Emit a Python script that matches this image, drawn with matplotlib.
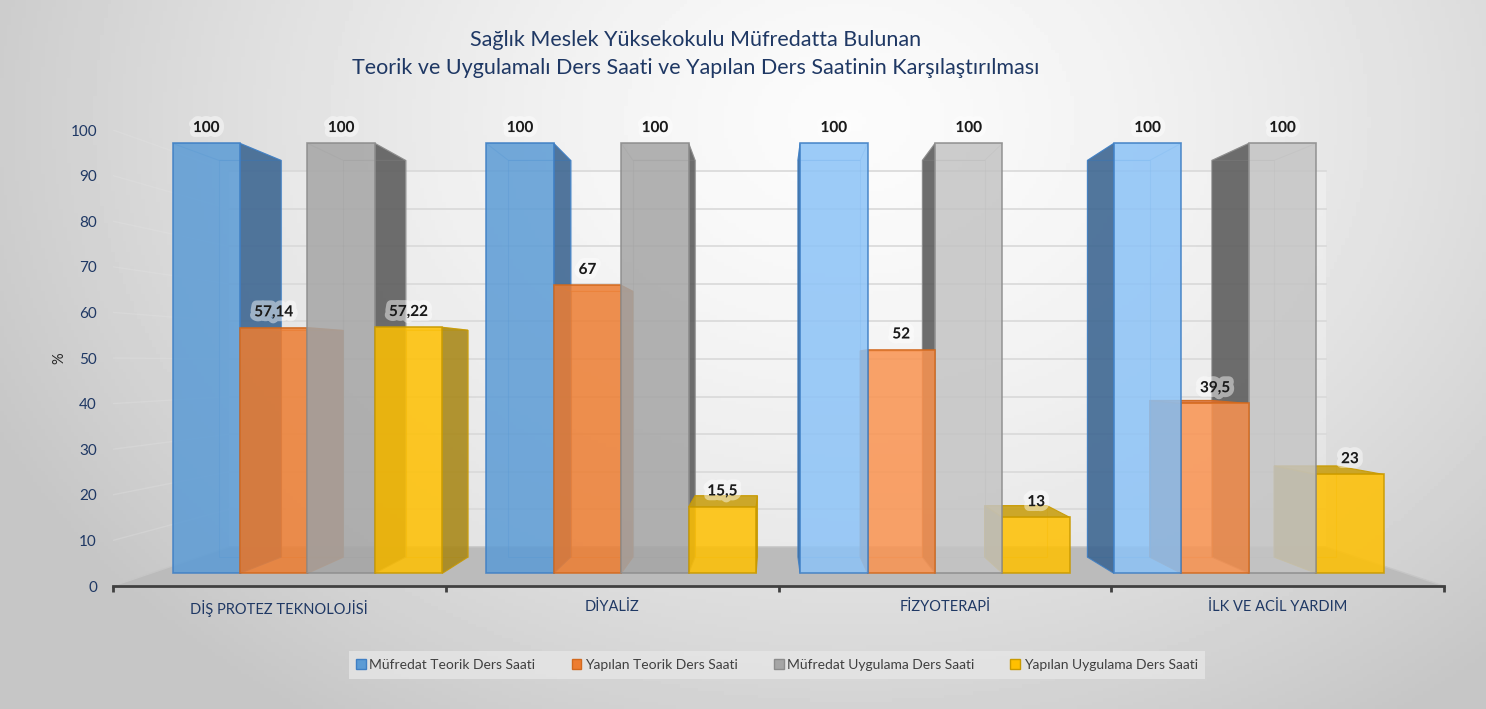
import numpy as np
import matplotlib.pyplot as plt
from matplotlib.patches import Polygon, Patch
import matplotlib.patheffects as pe

plt.rcParams['font.family'] = ['Liberation Sans Narrow', 'Lato', 'DejaVu Sans']

categories = ['DİŞ PROTEZ TEKNOLOJİSİ', 'DİYALİZ', 'FİZYOTERAPİ', 'İLK VE ACİL YARDIM']
series_names = ['Müfredat Teorik Ders Saati', 'Yapılan Teorik Ders Saati',
                'Müfredat Uygulama Ders Saati', 'Yapılan Uygulama Ders Saati']
mufredat_teorik = [100, 100, 100, 100]
yapilan_teorik = [57.14, 67, 52, 39.5]
mufredat_uygulama = [100, 100, 100, 100]
yapilan_uygulama = [57.22, 15.5, 13, 23]
y_ticks = list(range(0, 101, 10))

series = [mufredat_teorik, yapilan_teorik, mufredat_uygulama, yapilan_uygulama]

# colours: front (left of vanishing point), front (right of it), side, top, edge
front_l = ['#5B9BD5', '#ED7D31', '#A5A5A5', '#FFC000']
front_r = ['#8CC3F7', '#FA9350', '#C4C4C4', '#FFC000']
side_c = ['#3A6490', '#B5602A', '#5A5A5A', '#A88716']
top_c = ['#6AA7E0', '#D96F33', '#B0B0B0', '#C9A014']
edge_c = ['#3F7FC4', '#D2691E', '#8C8C8C', '#C99A00']
navy = '#1F3864'

# fake 3d: perspective towards a vanishing point, in data units
VPX, VPY = 1.48, 48.7
Z_FRONT, Z_BACK, Z_WALL = 0.057, 0.13, 0.176
BAR_W = 0.215


def proj(x, y, z):
    return (x + z * (VPX - x), y + z * (VPY - y))


def quad(pts):
    return [proj(*p) for p in pts]


fig = plt.figure(figsize=(14.86, 7.09), dpi=100)

# background gradient
bg = fig.add_axes([0, 0, 1, 1], zorder=-10)
gx, gy = np.meshgrid(np.linspace(0, 1486, 400), np.linspace(0, 709, 200))
d = np.sqrt((gx - 850) ** 2 + ((gy - 120) * 1.3) ** 2)
shade = 0.985 - 0.21 * np.clip(d / 950, 0, 1) ** 1.4
bg.imshow(shade, cmap='gray', vmin=0, vmax=1, extent=[0, 1486, 709, 0], aspect='auto')
bg.axis('off')

ax = fig.add_axes([113 / 1486, 1 - 586 / 709, 1331 / 1486, 456 / 709])
ax.patch.set_alpha(0)
ax.set_xlim(-0.5, 3.5)
ax.set_ylim(0, 100)

x0, x1 = -0.5, len(categories) - 0.5

# back wall + floor
ax.add_patch(Polygon(quad([(x0, 0, Z_WALL), (x1, 0, Z_WALL), (x1, 100, Z_WALL), (x0, 100, Z_WALL)]),
                     closed=True, facecolor='white', alpha=0.25, edgecolor='none', zorder=1))
ax.add_patch(Polygon(quad([(x0, 0, 0), (x1, 0, 0), (x1, 0, Z_WALL), (x0, 0, Z_WALL)]),
                     closed=True, facecolor='#BBBBBB', edgecolor='#C6C6C6', lw=1, zorder=1))
for v in y_ticks[1:]:
    (ax1, ay1), (ax2, ay2) = proj(x0, v, Z_WALL), proj(x1, v, Z_WALL)
    ax.plot([ax1, ax2], [ay1, ay2], color='#D9D9D9', lw=1.2, zorder=1.5)
    (bx1, by1), (bx2, by2) = proj(x0, v, 0), proj(x0, v, Z_WALL)
    ax.plot([bx1, bx2], [by1, by2], color='#E4E4E4', lw=1, alpha=0.3, zorder=1.5)

# bars, far from the vanishing point first
bars = []
for i in range(len(categories)):
    for j, vals in enumerate(series):
        left = i - 2 * BAR_W + j * BAR_W
        bars.append((abs(left + BAR_W / 2 - VPX), i, j, left, vals[i]))
bars.sort(key=lambda b: -b[0])

zo = 2
for _, i, j, L, h in bars:
    R = L + BAR_W
    right_of_vp = (L + BAR_W / 2) > VPX
    front = front_r[j] if right_of_vp else front_l[j]
    # hidden edges (seen through the transparency)
    back = quad([(L, 0, Z_BACK), (R, 0, Z_BACK), (R, h, Z_BACK), (L, h, Z_BACK)])
    ax.add_patch(Polygon(back, closed=True, facecolor='none', edgecolor=edge_c[j],
                         lw=0.8, alpha=0.35, zorder=zo))
    sx = R if not right_of_vp else L
    side = quad([(sx, 0, Z_FRONT), (sx, 0, Z_BACK), (sx, h, Z_BACK), (sx, h, Z_FRONT)])
    ax.add_patch(Polygon(side, closed=True, facecolor=side_c[j], edgecolor=edge_c[j],
                         lw=0.8, alpha=0.88, zorder=zo + 0.1))
    top = quad([(L, h, Z_FRONT), (R, h, Z_FRONT), (R, h, Z_BACK), (L, h, Z_BACK)])
    if h < VPY:
        ax.add_patch(Polygon(top, closed=True, facecolor=top_c[j], edgecolor=edge_c[j],
                             lw=0.8, alpha=0.9, zorder=zo + 0.2))
    else:
        ax.add_patch(Polygon(top, closed=True, facecolor='none', edgecolor=edge_c[j],
                             lw=0.8, alpha=0.35, zorder=zo + 0.2))
    fr = quad([(L, 0, Z_FRONT), (R, 0, Z_FRONT), (R, h, Z_FRONT), (L, h, Z_FRONT)])
    ax.add_patch(Polygon(fr, closed=True, facecolor=front, edgecolor=edge_c[j],
                         lw=1.2, alpha=0.85, zorder=zo + 0.3))
    cx, cy = proj((L + R) / 2, h, Z_FRONT)
    lab = f'{h:g}'.replace('.', ',')
    ax.annotate(lab, (cx, cy), xytext=(0, 11), textcoords='offset points',
                ha='center', va='center', fontsize=11, fontweight='bold', color='#1A1A1A',
                zorder=20, annotation_clip=False,
                path_effects=[pe.withStroke(linewidth=7, foreground='white', alpha=0.45)])
    zo += 1

# axes styling
for s in ['top', 'right', 'left']:
    ax.spines[s].set_visible(False)
ax.spines['bottom'].set_color('#404040')
ax.spines['bottom'].set_linewidth(2)
ax.spines['bottom'].set_zorder(50)
ax.set_xticks(np.arange(-0.5, len(categories), 1.0))
ax.set_xticklabels([])
ax.tick_params(axis='x', which='major', length=4, width=2, color='#404040', direction='out')
ax.set_xticks(range(len(categories)), minor=True)
ax.set_xticklabels(categories, minor=True, fontsize=10.5, color=navy)
ax.tick_params(axis='x', which='minor', length=0, pad=10)
ax.set_yticks(y_ticks)
ax.set_yticklabels([str(v) for v in y_ticks], fontsize=11, color=navy)
ax.tick_params(axis='y', length=0, pad=11.5)
ax.set_ylabel('%', fontsize=10.5, color='#262626')
ax.yaxis.set_label_coords(-0.035, 0.5)

# legend
handles = [Patch(facecolor=front_l[k], edgecolor=edge_c[k], label=series_names[k]) for k in range(4)]
leg = fig.legend(handles=handles, loc='center', ncol=4,
                 bbox_to_anchor=(777 / 1486, 1 - 665 / 709),
                 frameon=True, fontsize=10, handlelength=0.7, handleheight=0.7, handletextpad=0.25,
                 columnspacing=2.6, borderpad=0.55, borderaxespad=0, fancybox=False)
leg.get_frame().set_facecolor('#E6E6E6')
leg.get_frame().set_edgecolor('none')
for t in leg.get_texts():
    t.set_color('#404040')

fig.text(696 / 1486, 1 - 40 / 709, 'Sağlık Meslek Yüksekokulu Müfredatta Bulunan',
         ha='center', va='center', fontsize=15.5, color=navy)
fig.text(696 / 1486, 1 - 68 / 709, 'Teorik ve Uygulamalı Ders Saati ve Yapılan Ders Saatinin Karşılaştırılması',
         ha='center', va='center', fontsize=15.5, color=navy)

fig.savefig('out.png', dpi=100)
